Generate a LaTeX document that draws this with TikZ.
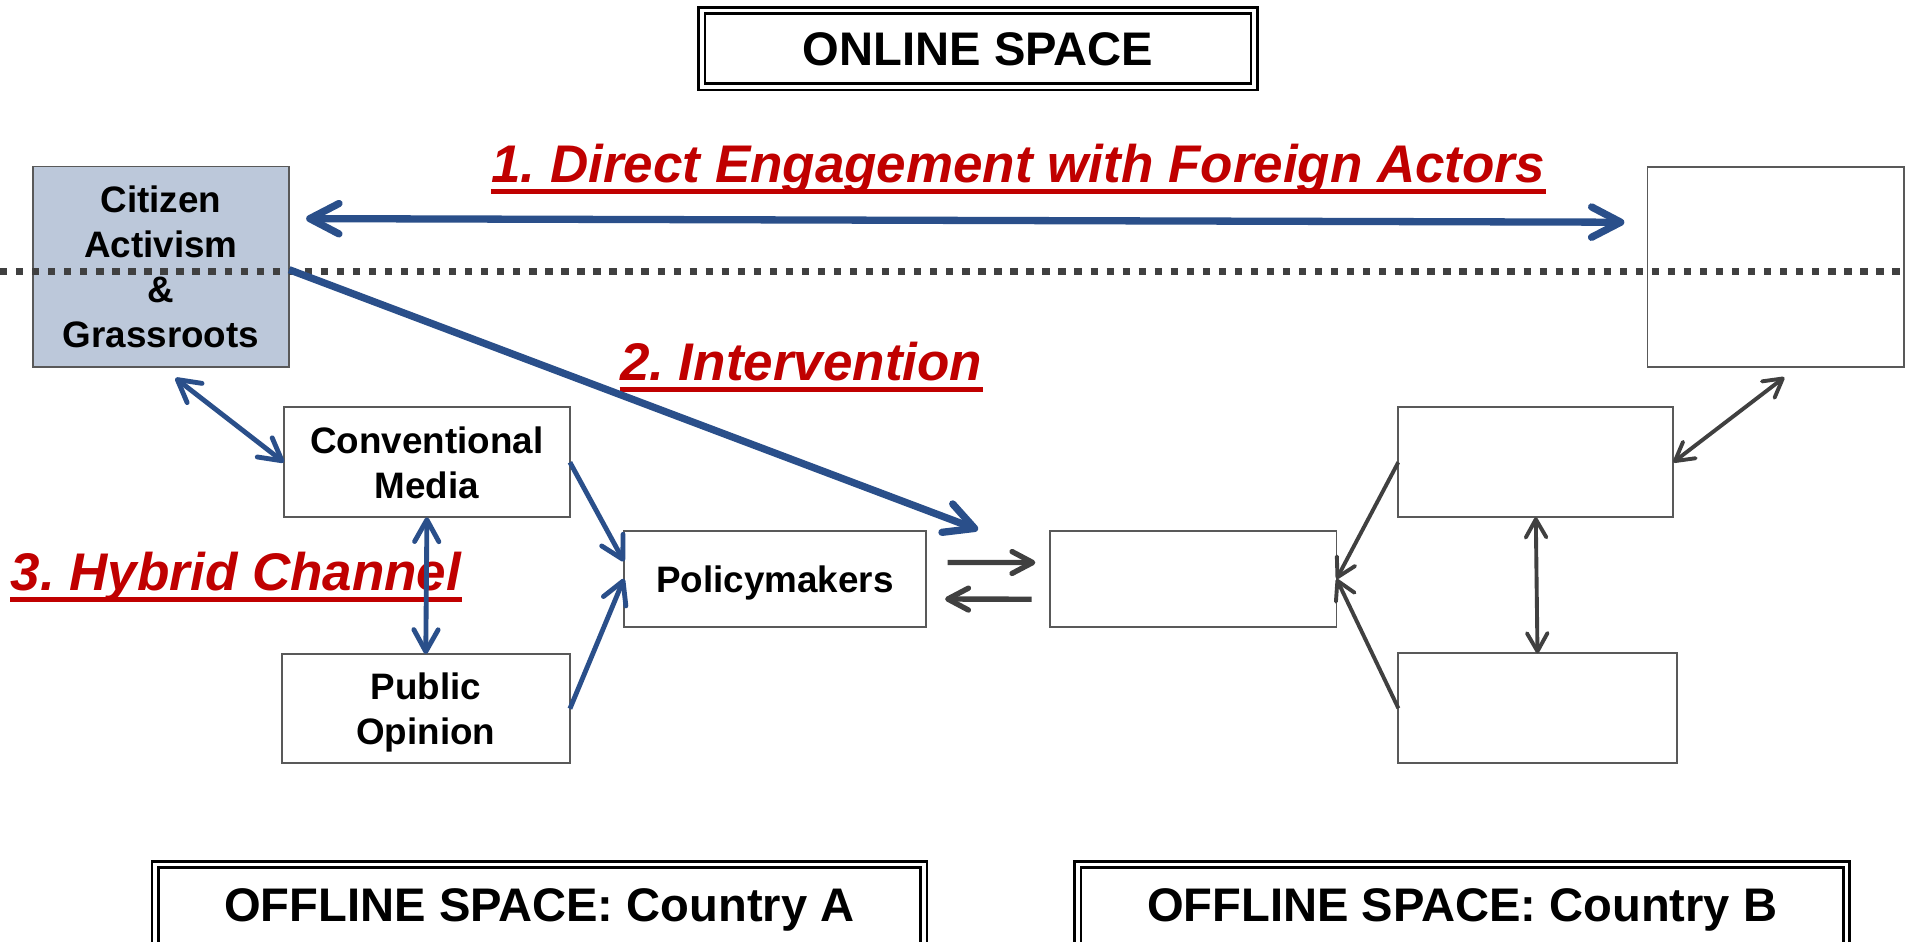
\documentclass[tikz,border=0pt]{standalone}
\usepackage{fontspec}
\setmainfont{Liberation Sans}
\usetikzlibrary{arrows.meta,calc}
\definecolor{ablue}{HTML}{2A4F8A}
\definecolor{ared}{HTML}{C00000}
\definecolor{agray}{HTML}{404040}
\definecolor{bgray}{HTML}{595959}
\definecolor{cfill}{HTML}{BCC8DA}
\tikzset{
  bigtip/.tip={Straight Barb[round,length=12pt,width=12.5pt]},
  thintip/.tip={Straight Barb[round,length=9pt,width=10pt]},
  gthicktip/.tip={Straight Barb[round,length=8.5pt,width=9pt]},
  gthintip/.tip={Straight Barb[round,length=7.5pt,width=8.5pt]},
  box/.style={draw=bgray, line width=0.75pt, inner sep=0pt, outer sep=0pt, align=center,
    text depth=0pt, font=\fontsize{15.15}{18.5}\selectfont\bfseries},
  titlebox/.style={draw=black, double=white, double distance=1.5pt, line width=1.1pt,
    inner sep=0pt, outer sep=0pt, text depth=0pt, font=\fontsize{19.4}{23}\selectfont\bfseries},
  lab/.style={text=ared, inner sep=0pt, anchor=base west,
    font=\fontsize{21.8}{26}\selectfont\bfseries\itshape},
  uline/.style={draw=ared, line width=2pt},
  bigblue/.style={draw=ablue, line width=3pt},
  thinblue/.style={draw=ablue, line width=2pt},
  graythick/.style={draw=agray, line width=2.2pt},
  graythin/.style={draw=agray, line width=1.6pt},
  dotline/.style={draw=agray, line width=3pt, dash pattern=on 3pt off 3.6pt}
}
\begin{document}
\frenchspacing
\begin{tikzpicture}[x=0.5pt,y=-0.5pt]
\useasboundingbox (0,0) rectangle (1568,775);
\clip (0,0) rectangle (1568,775);
\fill[white] (0,0) rectangle (1568,775);

% boxes
\node[box, fill=cfill, minimum width=105.5pt, minimum height=82.5pt] (cit) at (132.5,219.5) {Citizen\\Activism\\\&\\Grassroots};
\node[box, fill=white, minimum width=105.5pt, minimum height=82.3pt] (rt) at (1461.5,220) {};
\node[box, minimum width=117.7pt, minimum height=45.3pt] (conv) at (351.4,380.5) {Conventional\\Media};
\node[box, minimum width=118.65pt, minimum height=45pt] (po) at (350.45,583.3) {Public\\Opinion};
\node[box, minimum width=124.15pt, minimum height=39.6pt] (pm) at (637.75,476.4) {Policymakers};
\node[box, minimum width=117.95pt, minimum height=39.75pt] (bl) at (982.15,476.55) {};
\node[box, minimum width=113.2pt, minimum height=45.3pt] (ru) at (1264.1,380.5) {};
\node[box, minimum width=114.5pt, minimum height=45.3pt] (rl) at (1265.5,583) {};

% title boxes
\node[titlebox, minimum width=227.4pt, minimum height=31.4pt] (on) at (805,40) {ONLINE SPACE};
\node[titlebox, minimum width=316.4pt, minimum height=33.7pt] (offa) at (444,745.3) {OFFLINE SPACE: Country A};
\node[titlebox, minimum width=316.4pt, minimum height=33.7pt] (offb) at (1203.5,745.3) {OFFLINE SPACE: Country B};

% red labels
\node[lab] (l1) at (404,150.6) {1. Direct Engagement with Foreign Actors};
\node[lab] (l2) at (510,313.6) {2. Intervention};
\node[lab] (l3) at (8.5,486.4) {3. Hybrid Channel};
\draw[uline] ([yshift=-3.4pt]l1.base west) -- ([yshift=-3.4pt]l1.base east);
\draw[uline] ([yshift=-3.4pt]l2.base west) -- ([yshift=-3.4pt]l2.base east);
\draw[uline] ([yshift=-3.4pt]l3.base west) -- ([yshift=-3.4pt]l3.base east);

% dotted divider
\coordinate (dl) at (0,223.7);
\coordinate (dr) at (1568,223.7);
\draw[dotline] (dl) -- (dr);

% blue arrows
\draw[bigblue, {bigtip}-{bigtip}, shorten <=7pt, shorten >=9.5pt]
  ($(cit.north east)!0.26!(cit.south east)$) -- ($(rt.north west)!0.275!(rt.south west)$);
\coordinate (a2e) at (805,436);
\draw[bigblue, -{bigtip}] ($(cit.north east)!0.515!(cit.south east)$) -- (a2e);
\draw[thinblue, {thintip}-{thintip}, shorten <=7.5pt] (cit.south) -- (conv.west);
\draw[thinblue, {thintip}-{thintip}] (conv.south) -- (po.north);
\draw[thinblue, -{thintip}] (conv.east) -- ($(pm.north west)!0.32!(pm.south west)$);
\draw[thinblue, -{thintip}] (po.east) -- (pm.west);

% gray arrows
\draw[graythick, -{gthicktip}, shorten <=9pt, shorten >=6pt]
  ($(pm.north east)!0.33!(pm.south east)$) -- ($(bl.north west)!0.33!(bl.south west)$);
\draw[graythick, -{gthicktip}, shorten <=7.5pt, shorten >=8pt]
  ($(bl.north west)!0.71!(bl.south west)$) -- ($(pm.north east)!0.71!(pm.south east)$);
\draw[graythin, -{gthintip}] (ru.west) -- (bl.east);
\draw[graythin, -{gthintip}] (rl.west) -- (bl.east);
\draw[graythin, {gthintip}-{gthintip}] (ru.south) -- (rl.north);
\draw[graythin, {gthintip}-{gthintip}, shorten <=6.8pt]
  ($(rt.south west)!0.585!(rt.south east)$) -- (ru.east);
\end{tikzpicture}
\end{document}
